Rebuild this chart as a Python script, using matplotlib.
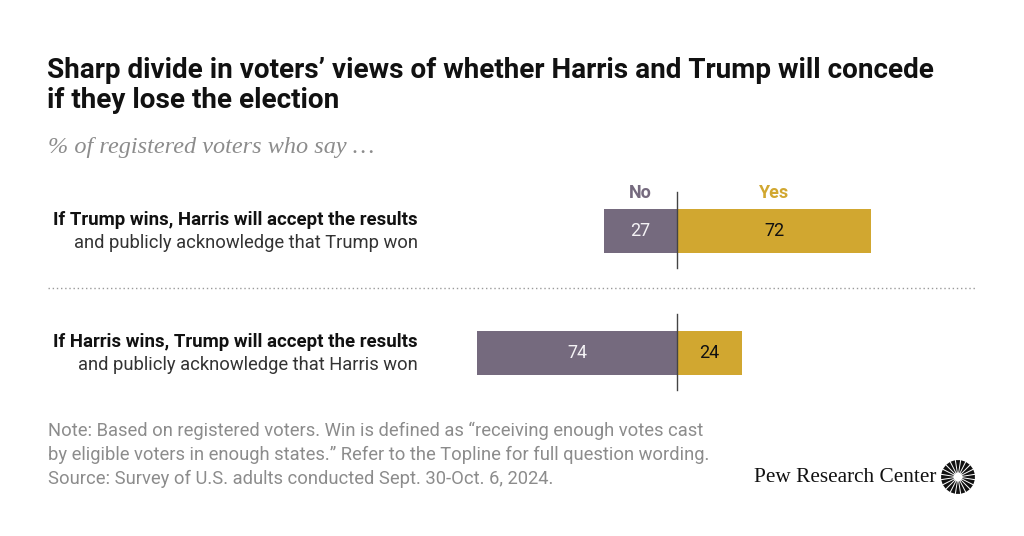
import matplotlib

matplotlib.use("Agg")
import matplotlib.pyplot as plt
import numpy as np
from matplotlib.patches import Polygon

# --- data ---
questions_bold = [
    "If Trump wins, Harris will accept the results",
    "If Harris wins, Trump will accept the results",
]
questions_rest = [
    "and publicly acknowledge that Trump won",
    "and publicly acknowledge that Harris won",
]
no_vals = [27, 74]
yes_vals = [72, 24]

NO_COLOR = "#756a7e"
YES_COLOR = "#d1a730"
GRAY = "#8c8c8c"
SANS = ["Roboto", "DejaVu Sans"]
SERIF = ["Liberation Serif", "DejaVu Serif"]

W, H = 1024, 536
fig = plt.figure(figsize=(W / 100, H / 100), dpi=100)
fig.patch.set_facecolor("white")


def fx(px):
    return px / W


def fy(py):
    return 1 - py / H


# title / subtitle
fig.text(fx(47), fy(70), "Sharp divide in voters\u2019 views of whether Harris and Trump will concede",
         fontsize=20.1, fontweight="bold", family=SANS, va="center", color="#111111")
fig.text(fx(47), fy(101), "if they lose the election",
         fontsize=20.1, fontweight="bold", family=SANS, va="center", color="#111111")
fig.text(fx(48), fy(148), "% of registered voters who say \u2026",
         fontsize=17.5, style="italic", family=SERIF, va="center", color=GRAY)

# bar axes: zero line at x=677px, ~2.7 px per point
zero_px, scale = 677, 2.7
ax_l, ax_r, ax_t, ax_b = 440, 990, 180, 400
ax = fig.add_axes([fx(ax_l), fy(ax_b), (ax_r - ax_l) / W, (ax_b - ax_t) / H])
ax.set_xlim((ax_l - zero_px) / scale, (ax_r - zero_px) / scale)
y = np.arange(len(no_vals))
row_gap = 122
ax.set_ylim(1 + (ax_b - 353) / row_gap, 0 - (231 - ax_t) / row_gap)
ax.axis("off")

bar_h = 44 / row_gap
ax.barh(y, [-v for v in no_vals], height=bar_h, color=NO_COLOR)
ax.barh(y, yes_vals, height=bar_h, color=YES_COLOR)
for i in y:
    ax.text(-no_vals[i] / 2, i, str(no_vals[i]), ha="center", va="center",
            fontsize=13, family=SANS, color="#f4f2f5")
    ax.text(yes_vals[i] / 2, i, str(yes_vals[i]), ha="center", va="center",
            fontsize=13, family=SANS, color="#111111")
    ax.plot([0, 0], [i - 0.32, i + 0.3], color="#444444", lw=1)

# column headers
ax.text(-no_vals[0] / 2, -0.31, "No", ha="center", va="center", fontsize=13,
        fontweight="bold", family=SANS, color=NO_COLOR)
ax.text(yes_vals[0] / 2, -0.31, "Yes", ha="center", va="center", fontsize=13,
        fontweight="bold", family=SANS, color=YES_COLOR)

# row labels
row_y = [231, 353]
for i, cy in enumerate(row_y):
    fig.text(fx(418), fy(cy - 11), questions_bold[i], ha="right", va="center",
             fontsize=13.4, fontweight="bold", family=SANS, color="#111111")
    fig.text(fx(418), fy(cy + 12), questions_rest[i], ha="right", va="center",
             fontsize=13.2, family=SANS, color="#333333")

# dotted separator
fig.add_artist(plt.Line2D([fx(48), fx(975)], [fy(288), fy(288)], color="#999999",
                          lw=1, linestyle=(0, (1, 2))))

# notes
notes = [
    "Note: Based on registered voters. Win is defined as \u201creceiving enough votes cast",
    "by eligible voters in enough states.\u201d Refer to the Topline for full question wording.",
    "Source: Survey of U.S. adults conducted Sept. 30-Oct. 6, 2024.",
]
for k, line in enumerate(notes):
    fig.text(fx(48), fy(431 + 24 * k), line, fontsize=13.2, family=SANS,
             va="center", color=GRAY)

# logo
fig.text(fx(936), fy(477), "Pew Research Center", ha="right", va="center",
         fontsize=15.3, family=SERIF, color="#111111")
cx, cy, r0, r1 = 958, 477, 4.5, 17
n_rays = 20
for a in np.linspace(0, 2 * np.pi, n_rays, endpoint=False):
    hw = np.pi / n_rays * 0.8
    pts = []
    for ang, r in [(a - hw * 0.45, r0), (a - hw, r1), (a + hw, r1), (a + hw * 0.45, r0)]:
        pts.append((fx(cx + r * np.cos(ang)), fy(cy + r * np.sin(ang))))
    fig.add_artist(Polygon(pts, closed=True, facecolor="#111111", edgecolor="none",
                           transform=fig.transFigure))

fig.savefig("out.png", dpi=100, facecolor="white")
